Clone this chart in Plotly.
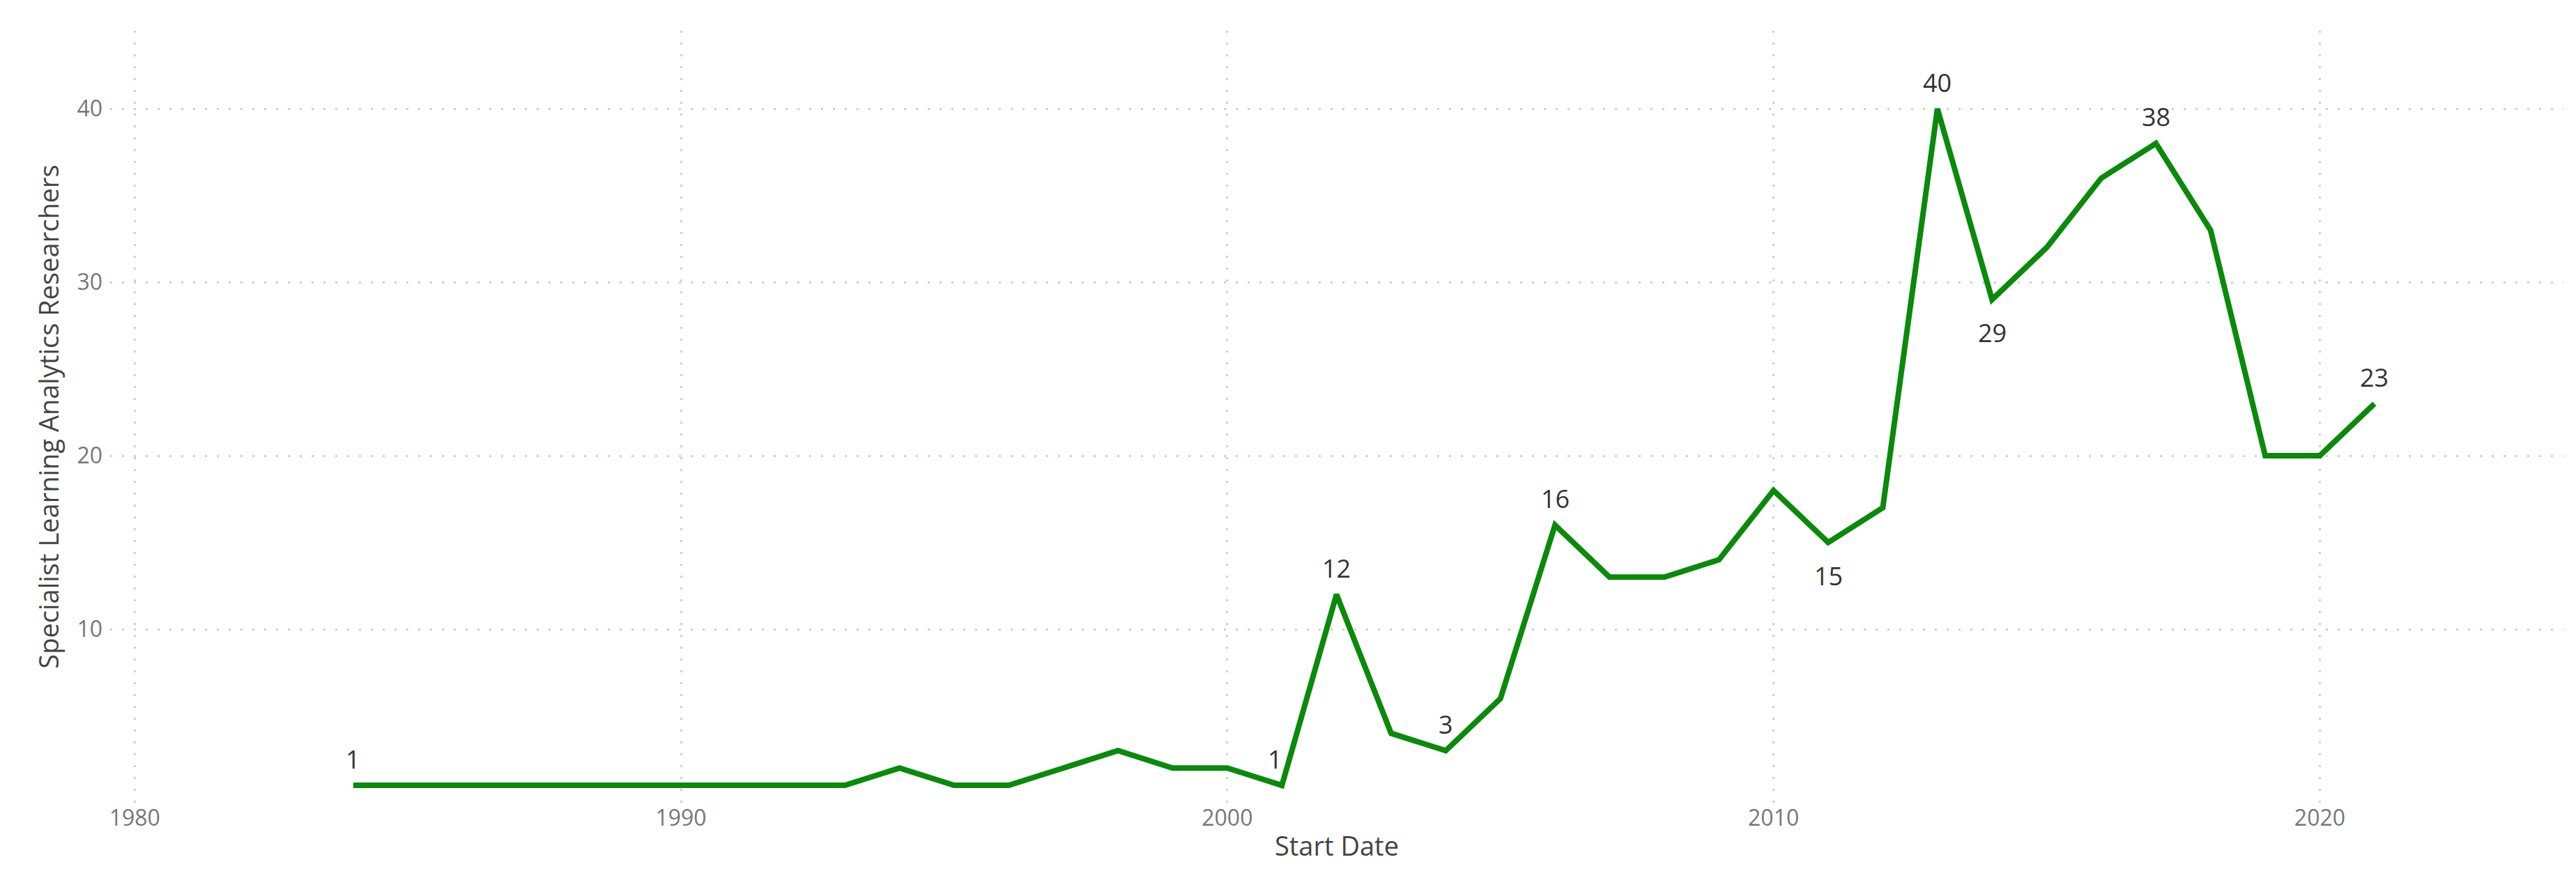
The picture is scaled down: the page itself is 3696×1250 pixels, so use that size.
import plotly.graph_objects as go

years = list(range(1984, 2022))
values = [1,1,1,1,1,1,1,1,1,1, 2,1,1,2,3,2,2,1,12,4,3,6,16,13,13,14,18,15,17,40,29,32,36,38,33,20,20,23]
label_years = [1984, 2001, 2002, 2004, 2006, 2011, 2013, 2014, 2017, 2021]
label_pos = ["top", "topleft", "top", "top", "top", "bottom", "top", "bottom", "top", "top"]
x_ticks = [1980, 1990, 2000, 2010, 2020]
y_ticks = [10, 20, 30, 40]

fig = go.Figure()
fig.add_trace(go.Scatter(x=years, y=values, mode="lines",
                         line=dict(color="#0A8A0A", width=8), hoverinfo="skip"))

for yr, pos in zip(label_years, label_pos):
    v = values[years.index(yr)]
    if pos == "top":
        ys, xs = 38, 0
    elif pos == "topleft":
        ys, xs = 38, -10
    else:
        ys, xs = -48, 0
    fig.add_annotation(x=yr, y=v, text=str(v), showarrow=False, xshift=xs, yshift=ys,
                       xanchor="center", font=dict(size=36, color="#333333", family="Open Sans"))

fig.update_layout(
    width=3696, height=1250, plot_bgcolor="white", paper_bgcolor="white",
    margin=dict(l=150, r=26, t=36, b=106), showlegend=False,
    font=dict(family="Open Sans", color="#777777"),
)
fig.update_xaxes(range=[1979.55, 2024.46], tickvals=x_ticks, showgrid=True,
                 gridcolor="#CFCFCF", griddash="3px,14px", gridwidth=3, zeroline=False,
                 showline=False, tickfont=dict(size=32, color="#777777"),
                 title=dict(text="Start Date", font=dict(size=38, color="#444444"), standoff=8))
fig.update_yaxes(range=[0, 44.5], tickvals=y_ticks, showgrid=True,
                 gridcolor="#CFCFCF", griddash="3px,14px", gridwidth=3, zeroline=False,
                 showline=False, tickfont=dict(size=32, color="#777777"), ticklabelstandoff=10,
                 title=dict(text="Specialist Learning Analytics Researchers",
                            font=dict(size=38, color="#444444"), standoff=14))
fig.write_html("out.html")
